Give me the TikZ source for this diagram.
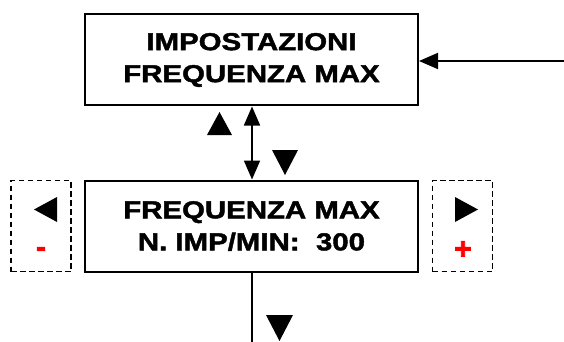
\documentclass[tikz,border=0pt]{standalone}
\usepackage{fontspec}
\setmainfont{Liberation Sans}
\newfontfamily\heavyfont[FakeStretch=1.2,FakeBold=1.8]{Liberation Sans Bold}
\newfontfamily\signfont[FakeBold=2.5]{Liberation Sans Bold}
\usetikzlibrary{arrows.meta}
\frenchspacing
\tikzset{bigtip/.tip={Triangle[length=19pt,width=16pt]}}
\begin{document}
\begin{tikzpicture}[x=1pt,y=1pt,
  boxstyle/.style={draw=black, line width=2pt, minimum width=333pt, minimum height=91pt, inner sep=0pt,
    align=center, font=\fontsize{24.5}{32}\heavyfont},
  keybox/.style={draw=black, line width=1.8pt, dash pattern=on 5.5pt off 3.5pt, minimum width=60pt, minimum height=91pt, inner sep=0pt},
  tri/.style={fill=black},
  sign/.style={text=red, font=\fontsize{30}{30}\signfont, inner sep=0pt},
  conn/.style={line width=1.8pt}
]
\useasboundingbox (0,0) rectangle (564,-342);
\node[boxstyle] (top) at (251.5,-60) {IMPOSTAZIONI\\FREQUENZA MAX};
\node[boxstyle] (freq) at (251.5,-226) {FREQUENZA MAX\\N. IMP/MIN:\ \ 300};
\node[keybox] (minus) at (41,-226) {};
\node[keybox] (plus) at (462.5,-226) {};
\node[sign] (minussign) at (41,-252) {-};
\node[sign] (plussign) at (463,-250) {+};
\coordinate (in) at (564,-61);
\coordinate (out) at (252,-342);
\draw[conn, -bigtip] (in) -- (top.east |- in);
\draw[conn, bigtip-bigtip] (top.south -| 252,0) -- (freq.north -| 252,0);
\draw[conn] (freq.south -| out) -- (out);
% triangles
\fill[tri] (207,-135) -- (232,-135) -- (219.5,-112) -- cycle;
\fill[tri] (272,-150) -- (298,-150) -- (285,-175) -- cycle;
\fill[tri] (266,-315) -- (293,-315) -- (279.5,-341) -- cycle;
\fill[tri] (57,-197) -- (57,-222) -- (34,-209.5) -- cycle;
\fill[tri] (455,-197) -- (455,-222) -- (478,-209.5) -- cycle;
\end{tikzpicture}
\end{document}
